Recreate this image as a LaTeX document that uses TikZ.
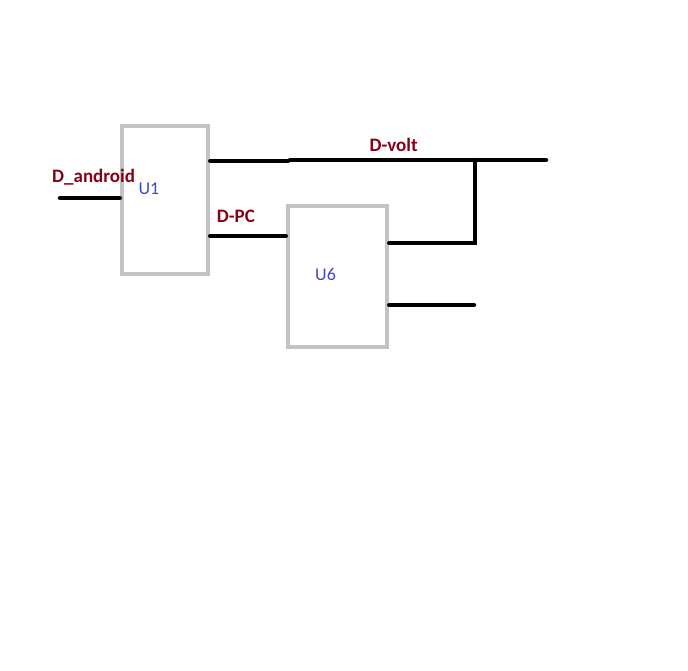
\documentclass[tikz,border=0pt]{standalone}
\usepackage{fontspec}
\setmainfont{Carlito}
\usepackage{xcolor}
\usepackage{tikz}
\usetikzlibrary{positioning}
\definecolor{netred}{RGB}{136,0,21}
\definecolor{partblue}{RGB}{63,72,204}
\definecolor{boxgray}{RGB}{195,195,195}

\begin{document}
\begin{tikzpicture}[x=1pt,y=-1pt,
  part/.style={draw=boxgray,line width=4.5pt,inner sep=0pt},
  wire/.style={line width=4.5pt,line cap=round},
  net/.style={text=netred,font=\bfseries\fontsize{19}{21}\selectfont,inner sep=0pt,anchor=base west},
  ref/.style={text=partblue,font=\fontsize{18}{20}\selectfont,inner sep=0pt,anchor=base west}]
\useasboundingbox[fill=white] (0,0) rectangle (688,670);
\node[part,minimum width=86pt,minimum height=148pt] (u1) at (165,200) {};
\node[part,minimum width=99pt,minimum height=141pt] (u6) at (337.5,276.5) {};
\coordinate (and) at (60,198);
\coordinate (vmid) at (288,161);
\coordinate (tap) at (475,160);
\coordinate (vout) at (546,160);
\coordinate (pc) at (287,236);
\coordinate (fb) at (475,243);
\coordinate (out2) at (474,305);
\draw[wire] (and) -- (and -| u1.west);
\draw[wire] (vmid -| u1.east) -- (vmid);
\draw[wire] ([xshift=2pt]vmid |- tap) -- (vout);
\draw[wire] (pc -| u1.east) -- (pc -| u6.west);
\draw[wire] (fb -| u6.east) -- (fb) -- (tap);
\draw[wire] (out2 -| u6.east) -- (out2);
\node[net] (lbland) at (52,182.3) {D\_android};
\node[ref] (lblu1) at (138.3,194.3) {U1};
\node[net] (lblpc) at (216.7,222.3) {D-PC};
\node[net] (lblvolt) at (369.5,151.7) {D-volt};
\node[ref] (lblu6) at (315,280) {U6};
\end{tikzpicture}
\end{document}
